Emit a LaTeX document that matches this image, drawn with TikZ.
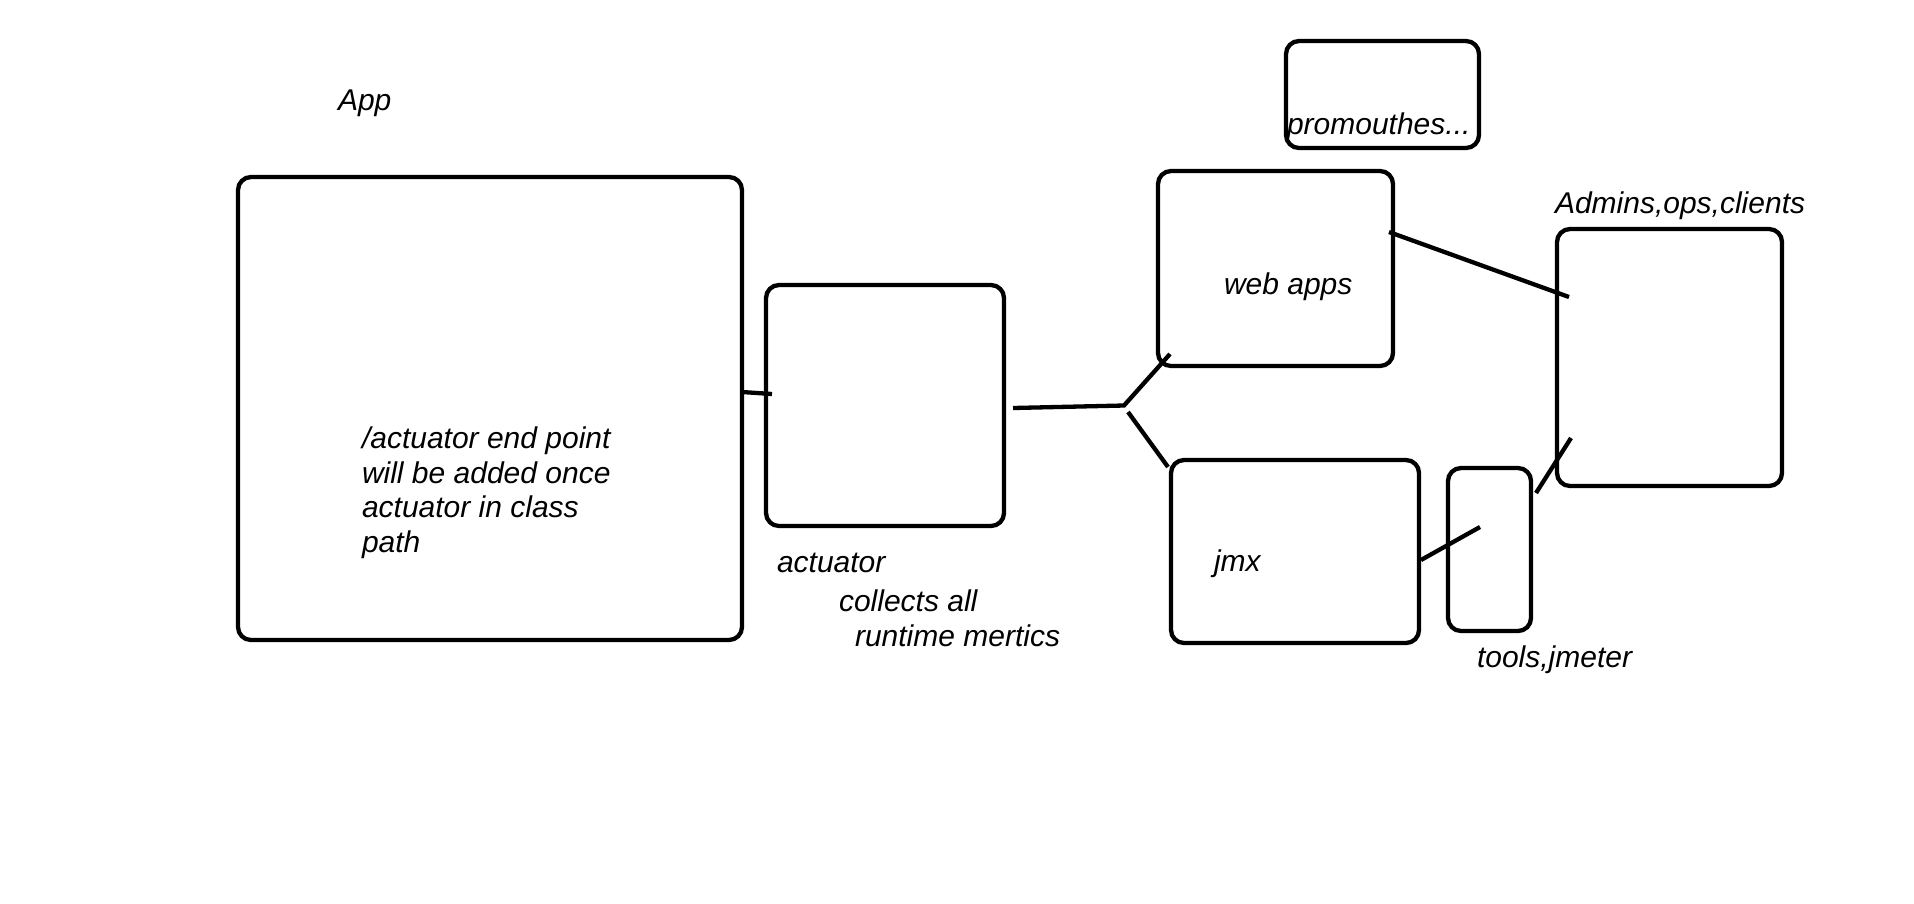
\documentclass[tikz,border=0pt]{standalone}
\usepackage{fontspec}
\setmainfont{Liberation Sans}
\begin{document}
\begin{tikzpicture}[x=1pt,y=-1pt,
  box/.style={draw=black, line width=4.3pt, rounded corners=13pt, inner sep=0pt, outer sep=0pt},
  lbl/.style={inner sep=0pt, outer sep=0pt, anchor=base west, font=\fontsize{30}{35}\selectfont\itshape},
  link/.style={draw=black, line width=4.3pt}]
\useasboundingbox[fill=white] (0,0) rectangle (1914,903);

% boxes
\node[box, minimum width=504pt, minimum height=463pt] (app) at (490,408.5) {};
\node[box, minimum width=238pt, minimum height=241pt] (act) at (885,405.5) {};
\node[box, minimum width=193pt, minimum height=107pt] (prom) at (1382.5,94.5) {};
\node[box, minimum width=235pt, minimum height=195pt] (web) at (1275.5,268.5) {};
\node[box, minimum width=248pt, minimum height=183pt] (jmx) at (1295,551.5) {};
\node[box, minimum width=83pt, minimum height=163pt] (tools) at (1489.5,549.5) {};
\node[box, minimum width=225pt, minimum height=257pt] (adm) at (1669.5,357.5) {};

% texts
\node[lbl] (tapp) at (338,110.6) {App};
\node[lbl] (b1) at (362,448) {/actuator end point};
\node[lbl] (b2) at (362,483) {will be added once};
\node[lbl] (b3) at (362,517.5) {actuator in class};
\node[lbl] (b4) at (362,552) {path};
\node[lbl] (tact) at (777,572.7) {actuator};
\node[lbl] (tcol) at (839,611.7) {collects all};
\node[lbl] (trun) at (855,646.7) {runtime mertics};
\node[lbl] (tprom) at (1287,134.4) {promouthes...};
\node[lbl] (tweb) at (1224,294) {web apps};
\node[lbl] (tadm) at (1555,213) {Admins,ops,clients};
\node[lbl] (tjmx) at (1214,571) {jmx};
\node[lbl] (ttools) at (1477,667) {tools,jmeter};

% connector end points
\coordinate (s1) at (742,392);
\coordinate (s2) at (772,394);
\coordinate (m1) at (1013,408);
\coordinate (m2) at (1124,405.5);
\coordinate (u2) at (1170,354);
\coordinate (d1) at (1128,412);
\coordinate (d2) at (1168,467);
\coordinate (w1) at (1389,232);
\coordinate (w2) at (1569,297);
\coordinate (j1) at (1421,560);
\coordinate (j2) at (1480,527);
\coordinate (t1) at (1536,493);
\coordinate (t2) at (1571,438);

% connectors
\draw[link] (s1) -- (s2);
\draw[link] (m1) -- (m2) -- (u2);
\draw[link] (d1) -- (d2);
\draw[link] (w1) -- (w2);
\draw[link] (j1) -- (j2);
\draw[link] (t1) -- (t2);
\end{tikzpicture}
\end{document}
